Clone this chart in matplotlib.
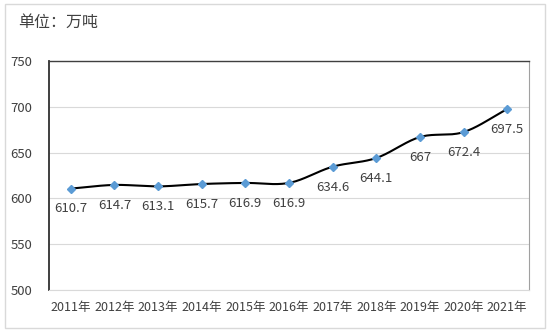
import numpy as np
import matplotlib.pyplot as plt
from matplotlib.patches import Rectangle

plt.rcParams['font.family'] = ['Noto Sans CJK SC', 'DejaVu Sans']

years = ['2011年', '2012年', '2013年', '2014年', '2015年', '2016年',
         '2017年', '2018年', '2019年', '2020年', '2021年']
output = [610.7, 614.7, 613.1, 615.7, 616.9, 616.9, 634.6, 644.1, 667, 672.4, 697.5]
value_labels = ['610.7', '614.7', '613.1', '615.7', '616.9', '616.9',
                '634.6', '644.1', '667', '672.4', '697.5']


def smooth_curve(x, y, steps=20):
    # Catmull-Rom style smoothing between the data points
    x = np.asarray(x, float)
    y = np.asarray(y, float)
    px = np.concatenate([[2 * x[0] - x[1]], x, [2 * x[-1] - x[-2]]])
    py = np.concatenate([[2 * y[0] - y[1]], y, [2 * y[-1] - y[-2]]])
    xs, ys = [], []
    t = np.linspace(0, 1, steps)
    for i in range(1, len(px) - 2):
        for p, out in ((px, xs), (py, ys)):
            p0, p1, p2, p3 = p[i - 1], p[i], p[i + 1], p[i + 2]
            m1 = (p2 - p0) / 2
            m2 = (p3 - p1) / 2
            h00 = 2 * t**3 - 3 * t**2 + 1
            h10 = t**3 - 2 * t**2 + t
            h01 = -2 * t**3 + 3 * t**2
            h11 = t**3 - t**2
            out.extend(h00 * p1 + h10 * m1 + h01 * p2 + h11 * m2)
    return np.array(xs), np.array(ys)


fig = plt.figure(figsize=(5.5, 3.32), dpi=100)
fig.patches.append(Rectangle((0.009, 0.012), 0.982, 0.976, transform=fig.transFigure,
                             fill=False, edgecolor='#d9d9d9', linewidth=1))
ax = fig.add_axes([49 / 550, 1 - 290 / 332, 480 / 550, 229 / 332])

x = np.arange(len(years))
sx, sy = smooth_curve(x, output)
ax.plot(sx, sy, color='black', linewidth=1.5, zorder=3)
ax.plot(x, output, linestyle='none', marker='D', markersize=4.5,
        color='#5b9bd5', zorder=4)

for xi, yi, lab in zip(x, output, value_labels):
    ax.annotate(lab, (xi, yi), xytext=(0, -10), textcoords='offset points',
                ha='center', va='top', fontsize=9.5, color='#404040')

ax.set_xlim(-0.5, len(years) - 0.5)
ax.set_ylim(500, 750)
ax.set_yticks([500, 550, 600, 650, 700, 750])
ax.set_xticks(x)
ax.set_xticklabels(years)
ax.tick_params(axis='both', length=0, colors='#404040')
ax.tick_params(axis='y', pad=12, labelsize=9.5)
ax.tick_params(axis='x', pad=8, labelsize=9)
ax.grid(axis='y', color='#d9d9d9', linewidth=0.8)
ax.set_axisbelow(True)
ax.spines['left'].set_color('#303030')
ax.spines['left'].set_linewidth(1.3)
ax.spines['top'].set_color('#404040')
ax.spines['top'].set_linewidth(1.0)
ax.spines['right'].set_color('#a0a0a0')
ax.spines['bottom'].set_color('#d9d9d9')

fig.text(18 / 550, 1 - 22 / 332, '单位：万吨', fontsize=11.5, color='#404040',
         ha='left', va='center')

fig.savefig('out.png', dpi=100)
